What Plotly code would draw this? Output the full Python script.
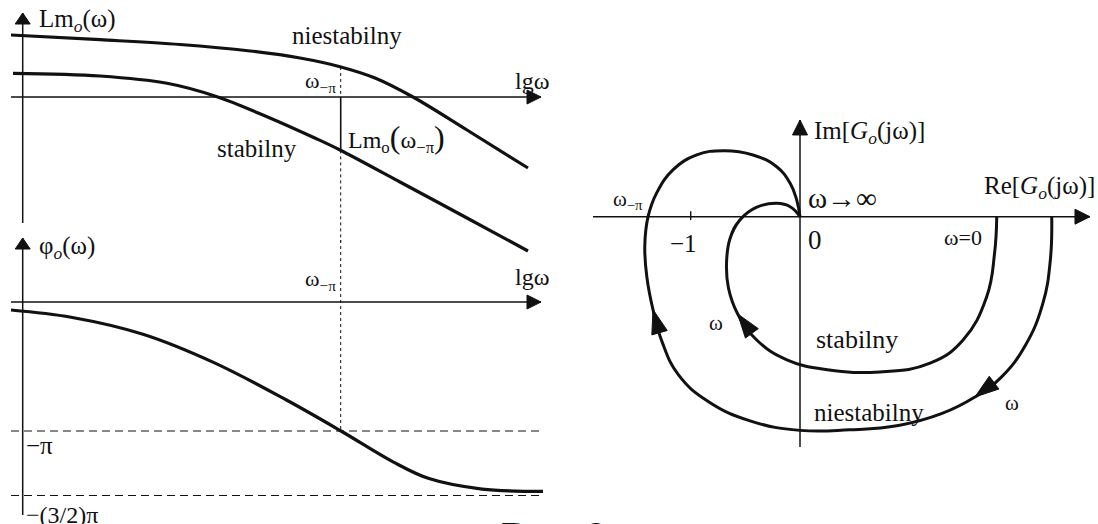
import numpy as np
import plotly.graph_objects as go

W, H = 1098, 524
FONT = "Liberation Serif"
INK = "#111111"

# ---------------- Bode magnitude: lg(omega) vs Lm_o(omega) ----------------
lgw_unstable = [-0.117, 0.773, 1.573, 2.273, 2.773, 3.173, 3.523, 3.903, 4.443, 5.053]
lm_unstable = [3.10, 2.865, 2.625, 2.30, 1.95, 1.515, 0.95, 0.0, -1.65, -3.55]

lgw_stable = [-0.097, 0.773, 1.443, 1.943, 2.443, 2.943, 3.173, 3.773, 4.443, 5.053]
lm_stable = [1.185, 1.05, 0.685, 0.015, -0.985, -2.10, -2.65, -4.25, -6.05, -7.70]

# ---------------- Bode phase: lg(omega) vs phi_o(omega) / pi ----------------
lgw_phase = [-0.117, 0.483, 1.203, 1.913, 2.633, 3.183, 3.703, 4.063, 4.593, 5.203]
phase_over_pi = [-0.062, -0.118, -0.25, -0.47, -0.758, -1.0, -1.239, -1.369, -1.450, -1.468]

# phase-crossover frequency omega_-pi on the lg(omega) axis
lgw_crossover = 3.18

# ---------------- Nyquist plot: Re / Im of G_o(j omega) ----------------
re_stable = [1.80, 1.78, 1.708, 1.49, 1.19, 0.732, 0.25, -0.12, -0.396, -0.57,
             -0.655, -0.672, -0.64, -0.55, -0.40, -0.213, -0.09, 0.0]
im_stable = [0.0, -0.335, -0.732, -1.13, -1.34, -1.42, -1.40, -1.31, -1.128, -0.89,
             -0.65, -0.42, -0.20, -0.03, 0.085, 0.122, 0.091, 0.0]
arrows_stable = [9]

re_unstable = [2.303, 2.29, 2.22, 2.06, 1.84, 1.60, 1.30, 0.90, 0.45, 0.0, -0.45,
               -0.84, -1.11, -1.26, -1.345, -1.40, -1.42, -1.39, -1.31, -1.16,
               -0.945, -0.70, -0.43, -0.213, -0.09, -0.03, 0.0]
im_unstable = [0.0, -0.40, -0.80, -1.18, -1.47, -1.65, -1.80, -1.91, -1.95, -1.955, -1.87,
               -1.69, -1.45, -1.15, -0.85, -0.56, -0.27, 0.0, 0.22, 0.43,
               0.565, 0.604, 0.565, 0.457, 0.305, 0.153, 0.0]
arrows_unstable = [5, 14]


# Each panel: pixel box, origin pixel and pixels per data unit
def frame(px0, px1, py0, py1, ox, oy, sx, sy):
    return dict(
        xdom=[px0 / W, px1 / W], ydom=[1 - py1 / H, 1 - py0 / H],
        xr=[(px0 - ox) / sx, (px1 - ox) / sx], yr=[(oy - py1) / sy, (oy - py0) / sy],
        sx=sx, sy=sy,
    )


MAG = frame(0, 560, 0, 262, 22.7, 97, 100, 20)
PHS = frame(0, 560, 230, 524, 22.7, 302, 100, 129)
NYQ = frame(580, 1098, 90, 470, 800, 216.7, 109.3, 109.3)
PANELS = {"": MAG, "2": PHS, "3": NYQ}

fig = go.Figure()


def line(xs, ys, ax, width=1.4, dash=None, shape="linear", smoothing=1.0):
    fig.add_trace(go.Scatter(
        x=list(xs), y=list(ys), mode="lines", xaxis="x" + ax, yaxis="y" + ax,
        line=dict(color=INK, width=width, dash=dash, shape=shape, smoothing=smoothing),
        hoverinfo="skip", showlegend=False,
    ))


def arrowhead(tip, prev, ax, length, width):
    p = PANELS[ax]
    sx, sy = p["sx"], p["sy"]
    dx, dy = (tip[0] - prev[0]) * sx, (tip[1] - prev[1]) * sy
    n = np.hypot(dx, dy)
    ux, uy = dx / n, dy / n
    bx, by = -ux * length, -uy * length
    nx, ny = -uy * width / 2, ux * width / 2
    pts = [(0, 0), (bx + nx, by + ny), (bx - nx, by - ny), (0, 0)]
    fig.add_trace(go.Scatter(
        x=[tip[0] + q[0] / sx for q in pts], y=[tip[1] + q[1] / sy for q in pts],
        mode="lines", fill="toself", fillcolor=INK, xaxis="x" + ax, yaxis="y" + ax,
        line=dict(color=INK, width=1), hoverinfo="skip", showlegend=False,
    ))


def axis_arrow(x0, y0, x1, y1, ax, length=14, width=14):
    line([x0, x1], [y0, y1], ax, width=1.5)
    arrowhead((x1, y1), (x0, y0), ax, length, width)


# ---- magnitude panel ----
axis_arrow(-0.117, 0, 5.183, 0, "")
axis_arrow(0, -6.3, 0, 4.2, "", length=11, width=15)
line(lgw_unstable, lm_unstable, "", width=3.2, shape="spline")
line(lgw_stable, lm_stable, "", width=3.2, shape="spline")
lm_u_cross = float(np.interp(lgw_crossover, lgw_unstable, lm_unstable))
lm_s_cross = float(np.interp(lgw_crossover, lgw_stable, lm_stable))
line([lgw_crossover] * 2, [lm_u_cross, 0], "", width=1, dash="3px,3px")
line([lgw_crossover] * 2, [0, lm_s_cross], "", width=1.6)
line([lgw_crossover] * 2, [lm_s_cross, MAG["yr"][0] + 1.0], "", width=1, dash="3px,3px")

# ---- phase panel ----
axis_arrow(-0.117, 0, 5.183, 0, "2")
axis_arrow(0, -1.651, 0, 0.496, "2", length=11, width=15)
line([-0.117, 5.173], [-1, -1], "2", width=1, dash="8px,5px")
line([-0.117, 5.173], [-1.5, -1.5], "2", width=1, dash="8px,5px")
line([lgw_crossover] * 2, [(302 - 240) / 129, -1], "2", width=1, dash="3px,3px")
line(lgw_phase, phase_over_pi, "2", width=3.2, shape="spline")

# ---- Nyquist panel ----
axis_arrow(-1.894, 0, 2.653, 0, "3", length=15, width=15)
axis_arrow(0, -2.107, 0, 0.885, "3", length=15, width=15)
line([-1, -1], [-0.03, 0.05], "3", width=1.4)
line(re_stable, im_stable, "3", width=3.0, shape="spline", smoothing=1.25)
line(re_unstable, im_unstable, "3", width=3.0, shape="spline", smoothing=1.25)
for i in arrows_stable:
    arrowhead((re_stable[i], im_stable[i]), (re_stable[i - 1], im_stable[i - 1]), "3", 24, 16)
for i in arrows_unstable:
    arrowhead((re_unstable[i], im_unstable[i]), (re_unstable[i - 1], im_unstable[i - 1]), "3", 24, 16)

# ---- labels ----
ann = []


def text(s, x, y, ax, size=22, xanchor="left", yanchor="middle", xref=None, yref=None):
    ann.append(dict(
        text=s, x=x, y=y, xref=xref or ("x" + ax), yref=yref or ("y" + ax),
        xanchor=xanchor, yanchor=yanchor, showarrow=False, borderpad=0,
        font=dict(family=FONT, size=size, color=INK),
    ))


text("Lm<sub><i>o</i></sub>(ω)", 0.153, 3.85, "", 25)
text("niestabilny", 3.243, 3.1, "", 25, "center")
text("stabilny", 2.338, -2.55, "", 25, "center")
text("ω<sub>−π</sub>", 3.14, 0.75, "", 22, "right")
text('Lm<sub>o</sub><span style="font-size:32px">(</span>ω<sub>−π</sub>'
     '<span style="font-size:32px">)</span>', 3.243, -2.05, "", 24)
text("lgω", 4.913, 0.8, "", 24)

text("φ<sub><i>o</i></sub>(ω)", 0.153, 0.426, "2", 25)
text("lgω", 4.913, 0.194, "2", 24)
text("ω<sub>−π</sub>", 3.14, 0.17, "2", 22, "right")
text("−π", 0.023, -1.109, "2", 25)
text("−(3/2)π", 0.023, -1.651, "2", 24)

text("Im[<i>G<sub>o</sub></i>(jω)]", 0.119, 0.766, "3", 25)
text("Re[<i>G<sub>o</sub></i>(jω)]", 1.674, 0.263, "3", 25)
text("ω→∞", 0.064, 0.171, "3", 29)
text("0", 0.064, -0.213, "3", 27)
text("−1", -1.066, -0.241, "3", 25, "center")
text("ω<sub>−π</sub>", -1.72, 0.153, "3", 21)
text("ω=0", 1.487, -0.186, "3", 22, "center")
text("ω", -0.773, -0.973, "3", 21, "center")
text("stabilny", 0.526, -1.128, "3", 26, "center")
text("niestabilny", 0.632, -1.787, "3", 25, "center")
text("ω", 1.944, -1.705, "3", 21, "center")

text("Rys. 9", 500 / W, 1 - 513 / H, "", 42, "left", "top", xref="paper", yref="paper")

layout = dict(
    width=W, height=H, margin=dict(l=0, r=0, t=0, b=0),
    paper_bgcolor="white", plot_bgcolor="rgba(0,0,0,0)",
    showlegend=False, annotations=ann,
)
for k, p in PANELS.items():
    layout["xaxis" + k] = dict(domain=p["xdom"], range=p["xr"], visible=False, fixedrange=True,
                               anchor="y" + k)
    layout["yaxis" + k] = dict(domain=p["ydom"], range=p["yr"], visible=False, fixedrange=True,
                               anchor="x" + k)
fig.update_layout(**layout)

fig.write_html("out.html", config={"displayModeBar": False})
